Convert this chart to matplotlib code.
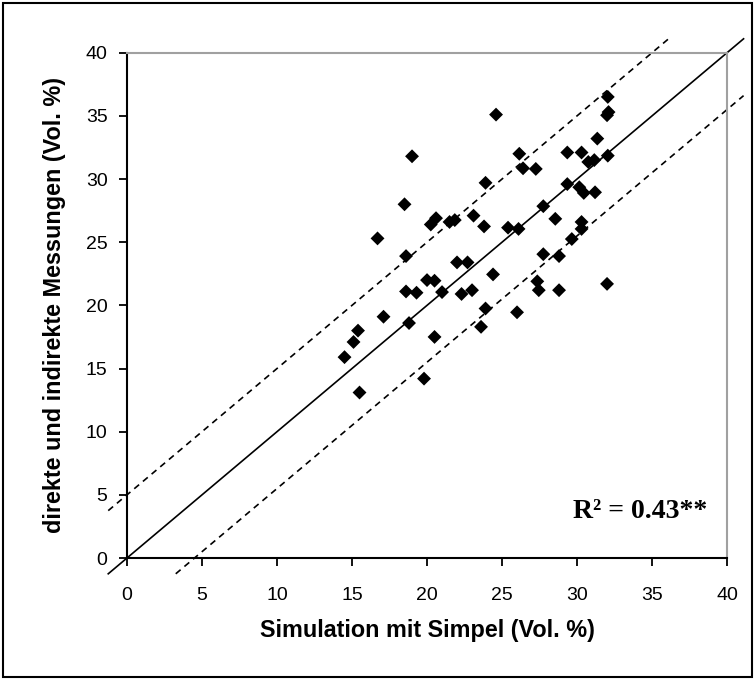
import numpy as np
import matplotlib.pyplot as plt
from matplotlib.patches import Rectangle

plt.rcParams['font.family'] = ['Liberation Sans', 'DejaVu Sans']

# Simulation (x) vs. measurements (y), Vol. %
sim = [14.5, 15.1, 15.4, 15.5, 16.7, 17.1, 18.5, 18.6, 18.8, 18.6,
       19.3, 19.0, 19.8, 20.0, 20.5, 20.25, 20.6, 20.5, 21.0, 21.5,
       21.85, 22.0, 22.7, 22.3, 23.0, 23.1, 23.6, 23.8, 23.9, 23.9,
       24.4, 24.6, 25.4, 26.1, 26.0, 26.15, 26.4, 27.25, 27.35, 27.45,
       27.75, 27.75, 28.55, 28.8, 28.8, 29.35, 29.35, 29.65, 30.3, 30.15,
       30.45, 30.3, 30.3, 30.75, 31.15, 31.2, 31.35, 32.05, 32.0, 32.1,
       32.05, 32.0]
meas = [15.9, 17.1, 18.0, 13.1, 25.3, 19.1, 28.0, 23.9, 18.6, 21.1,
        21.0, 31.8, 14.2, 22.0, 21.95, 26.4, 26.9, 17.5, 21.05, 26.6,
        26.75, 23.4, 23.4, 20.9, 21.2, 27.1, 18.3, 26.25, 29.7, 19.75,
        22.45, 35.1, 26.15, 26.05, 19.45, 32.0, 30.85, 30.8, 21.9, 21.2,
        27.85, 24.05, 26.85, 23.9, 21.2, 32.1, 29.6, 25.25, 32.1, 29.35,
        28.9, 26.6, 26.05, 31.35, 31.5, 28.95, 33.2, 36.5, 35.05, 35.3,
        31.85, 21.7]

# 1:1 line and the two dashed bands
line_offsets = [0, 5, -4.5]
line_styles = ['-', '--', '--']
line_lo, line_hi = -1.25, 41.1

ticks = list(range(0, 45, 5))

fig = plt.figure(figsize=(7.55, 6.8), dpi=100)
ax = fig.add_axes([0.1682, 0.1794, 0.7948, 0.7431])

for off, ls in zip(line_offsets, line_styles):
    xs = np.array([max(line_lo, line_lo - off), min(line_hi, line_hi - off)])
    ln, = ax.plot(xs, xs + off, color='black', lw=1.2, ls=ls, clip_on=False, zorder=2)
    if ls == '--':
        ln.set_dashes((3.8, 3))

ax.scatter(sim, meas, marker='D', s=50, color='black', edgecolors='none', zorder=3)

ax.set_xlim(0, 40)
ax.set_ylim(0, 40)
ax.set_xticks(ticks)
ax.set_yticks(ticks)
ax.tick_params(direction='out', length=6, width=1.3, labelsize=14)
ax.tick_params(axis='x', pad=15)
ax.tick_params(axis='y', pad=8)

for side in ['left', 'bottom']:
    ax.spines[side].set_linewidth(1.5)
    ax.spines[side].set_color('black')
for side in ['top', 'right']:
    ax.spines[side].set_linewidth(1.5)
    ax.spines[side].set_color('#a0a0a0')

ax.set_xlabel('Simulation mit Simpel (Vol. %)', fontsize=16.8, fontweight='bold', labelpad=11)
ax.set_ylabel('direkte und indirekte Messungen (Vol. %)', fontsize=16.8, fontweight='bold', labelpad=14)

ax.text(38.7, 3.2, 'R² = 0.43**', ha='right', va='baseline',
        family='Liberation Serif', fontweight='bold', fontsize=20)

fig.add_artist(Rectangle((0.004, 0.004), 0.992, 0.992, transform=fig.transFigure,
                         fill=False, edgecolor='black', lw=1.5))

fig.savefig('out.png', dpi=100)
